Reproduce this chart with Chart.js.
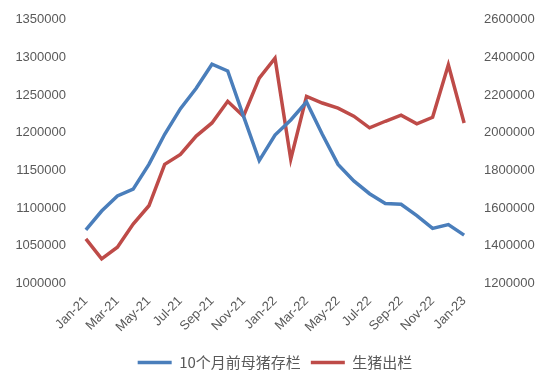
<!DOCTYPE html>
<html>
<head>
<meta charset="utf-8">
<script src="https://cdn.jsdelivr.net/npm/chart.js@4/dist/chart.umd.min.js"></script>
<style>
  html, body { margin: 0; padding: 0; background: #fff; }
  #wrap { width: 550px; height: 388px; }
</style>
</head>
<body>
<div id="wrap"><canvas id="chart"></canvas></div>
<script>
// months Jan-21 .. Jan-23
const months = ['Jan-21', 'Feb-21', 'Mar-21', 'Apr-21', 'May-21', 'Jun-21', 'Jul-21', 'Aug-21', 'Sep-21',
    'Oct-21', 'Nov-21', 'Dec-21', 'Jan-22', 'Feb-22', 'Mar-22', 'Apr-22', 'May-22', 'Jun-22', 'Jul-22',
    'Aug-22', 'Sep-22', 'Oct-22', 'Nov-22', 'Dec-22', 'Jan-23'];

// left axis: 10个月前母猪存栏
const sowStock = [1071000, 1096000, 1116000, 1125000, 1158000, 1198000, 1232000, 1259000, 1291000,
    1282000, 1222000, 1163000, 1197000, 1217000, 1241000, 1198000, 1158000, 1136000, 1119000,
    1106000, 1105000, 1090000, 1073000, 1078000, 1064000];

// right axis: 生猪出栏
const hogOutput = [1436000, 1330000, 1392000, 1515000, 1612000, 1832000, 1885000, 1982000, 2052000,
    2167000, 2088000, 2290000, 2396000, 1859000, 2193000, 2158000, 2131000, 2088000, 2026000,
    2061000, 2093000, 2047000, 2082000, 2361000, 2052000];

const leftTicks = { min: 1000000, max: 1350000, step: 50000 };
const rightTicks = { min: 1200000, max: 2600000, step: 200000 };

const tickFont = { family: 'Liberation Sans', size: 13 };
const tickColor = '#595959';
const plain = v => String(v);
const noGrid = { display: false, drawTicks: false };
// fixed width for both value axes so the plot area lines up with the picture
const axisWidth = s => { s.width = 63; };

new Chart(document.getElementById('chart'), {
    type: 'line',
    data: {
        labels: months,
        datasets: [
            {
                label: '10个月前母猪存栏',
                data: sowStock,
                yAxisID: 'y',
                borderColor: '#4a7ebb',
                backgroundColor: '#4a7ebb',
                borderWidth: 3.5,
                pointRadius: 0,
                tension: 0
            },
            {
                label: '生猪出栏',
                data: hogOutput,
                yAxisID: 'y1',
                borderColor: '#be4b48',
                backgroundColor: '#be4b48',
                borderWidth: 3.5,
                pointRadius: 0,
                tension: 0
            }
        ]
    },
    options: {
        responsive: true,
        maintainAspectRatio: false,
        animation: false,
        layout: { padding: { left: 15, right: 15, top: 10, bottom: 8 } },
        plugins: {
            legend: {
                position: 'bottom',
                labels: {
                    usePointStyle: true,
                    pointStyle: 'line',
                    pointStyleWidth: 34,
                    color: '#595959',
                    font: { family: 'Noto Sans CJK SC', size: 15 },
                    padding: 10
                }
            },
            tooltip: { enabled: false }
        },
        scales: {
            x: {
                offset: true,
                grid: noGrid,
                border: { display: false },
                ticks: {
                    autoSkip: false,
                    maxRotation: 45,
                    minRotation: 45,
                    color: tickColor,
                    font: tickFont,
                    padding: 10,
                    callback: (v, i) => (i % 2 === 0 ? months[i] : '')
                }
            },
            y: {
                position: 'left',
                min: leftTicks.min,
                max: leftTicks.max,
                grid: noGrid,
                border: { display: false },
                afterFit: axisWidth,
                ticks: { stepSize: leftTicks.step, color: tickColor, font: tickFont, padding: 12, callback: plain }
            },
            y1: {
                position: 'right',
                min: rightTicks.min,
                max: rightTicks.max,
                grid: noGrid,
                border: { display: false },
                afterFit: axisWidth,
                ticks: { stepSize: rightTicks.step, color: tickColor, font: tickFont, padding: 12, callback: plain }
            }
        }
    }
});
</script>
</body>
</html>
